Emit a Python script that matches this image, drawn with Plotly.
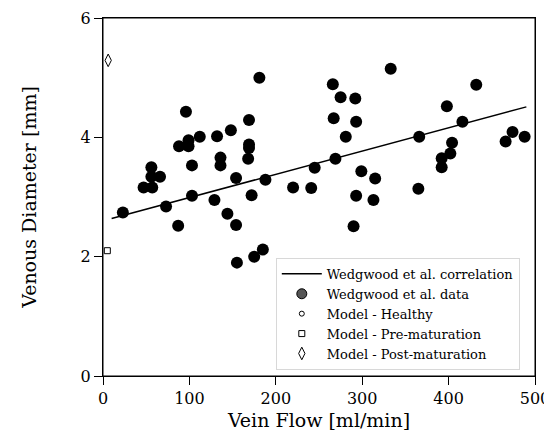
import plotly.graph_objects as go

# Wedgwood et al. data (vein flow in ml/min, venous diameter in mm)
flow = [23, 47, 57, 56, 56, 66, 73, 87, 88, 96, 99, 99, 103, 103, 112,
        129, 132, 136, 136, 144, 148, 154, 154, 155, 168, 169, 169, 169, 172, 175,
        181, 185, 188, 220, 241, 245, 266, 267, 269, 275, 281, 290, 292, 293, 293,
        299, 313, 315, 333, 365, 366, 392, 392, 398, 402, 404, 416, 432, 466, 474, 488]
diameter = [2.74, 3.16, 3.16, 3.34, 3.50, 3.34, 2.84, 2.52, 3.85, 4.43, 3.95, 3.85, 3.53, 3.02, 4.01,
            2.95, 4.02, 3.53, 3.66, 2.72, 4.12, 3.32, 2.53, 1.90, 3.64, 4.29, 3.88, 3.82, 3.03, 2.00,
            5.00, 2.12, 3.29, 3.16, 3.15, 3.49, 4.89, 4.32, 3.64, 4.67, 4.01, 2.51, 4.65, 4.26, 3.02,
            3.43, 2.95, 3.31, 5.15, 3.14, 4.01, 3.65, 3.50, 4.52, 3.73, 3.91, 4.26, 4.88, 3.93, 4.09, 4.01]

# Wedgwood et al. correlation line end points
corr_flow = [10, 490]
corr_diameter = [2.64, 4.51]

# model results
pre_flow = [5]
pre_diameter = [2.10]
post_flow = [6]
post_diameter = [5.29]

serif = "DejaVu Serif"

fig = go.Figure()

fig.add_trace(go.Scatter(
    x=corr_flow, y=corr_diameter, mode="lines",
    line=dict(color="black", width=1.5),
    name="Wedgwood et al. correlation",
))
fig.add_trace(go.Scatter(
    x=flow, y=diameter, mode="markers",
    marker=dict(color="black", size=12),
    showlegend=False,
))
# legend entry for the data (grey in the key)
fig.add_trace(go.Scatter(
    x=[None], y=[None], mode="markers",
    marker=dict(color="#555555", size=10, line=dict(color="black", width=1)),
    name="Wedgwood et al. data",
))
fig.add_trace(go.Scatter(
    x=[None], y=[None], mode="markers",
    marker=dict(symbol="circle-open", color="black", size=5, line=dict(width=1)),
    name="Model - Healthy",
))
fig.add_trace(go.Scatter(
    x=pre_flow, y=pre_diameter, mode="markers",
    marker=dict(symbol="square-open", color="black", size=6, line=dict(width=1)),
    name="Model - Pre-maturation", cliponaxis=False,
))
fig.add_trace(go.Scatter(
    x=post_flow, y=post_diameter, mode="markers",
    marker=dict(symbol="diamond-tall-open", color="black", size=9, line=dict(width=1)),
    name="Model - Post-maturation", cliponaxis=False,
))

axis_common = dict(
    showgrid=False, zeroline=False, automargin=False,
    showline=True, linecolor="black", linewidth=1, mirror=True,
    ticks="outside", ticklen=8, tickcolor="black", tickwidth=1,
    ticklabeloverflow="allow",
    tickfont=dict(family=serif, size=16, color="black"),
)

# frame round the plot area
fig.add_shape(type="rect", xref="paper", yref="paper", x0=0, x1=1, y0=0, y1=1,
              line=dict(color="black", width=1), layer="above")

# page body adds an 8px offset, so the figure is sized to fit the window
fig.update_layout(
    width=544, height=431,
    margin=dict(l=95, r=17, t=10, b=63),
    plot_bgcolor="white", paper_bgcolor="white",
    font=dict(family=serif, color="black"),
    xaxis=dict(range=[0, 500], dtick=100,
               title=dict(text="Vein Flow [ml/min]", font=dict(size=19), standoff=6),
               **axis_common),
    yaxis=dict(range=[0, 6], dtick=2,
               title=dict(text="Venous Diameter [mm]", font=dict(size=19), standoff=38),
               **axis_common),
    legend=dict(
        x=0.40, y=0.017, xanchor="left", yanchor="bottom",
        bordercolor="#d8d8d8", borderwidth=1, bgcolor="white",
        font=dict(family=serif, size=13, color="black"),
        itemwidth=40, tracegroupgap=0,
    ),
)

fig.write_html("out.html")
